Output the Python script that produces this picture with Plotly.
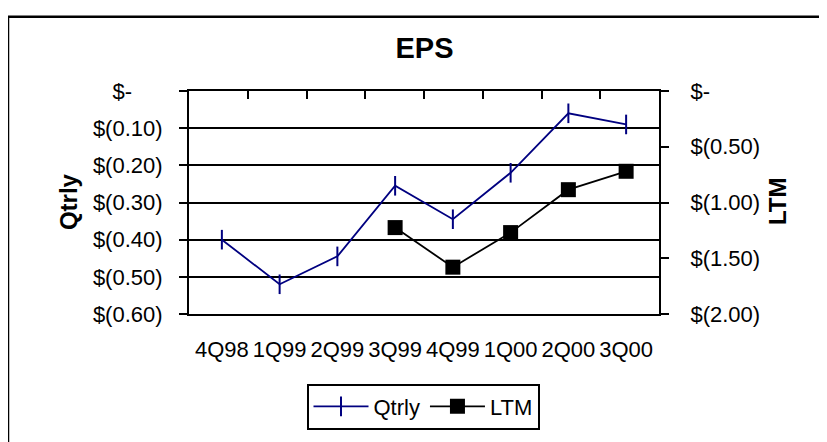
import plotly.graph_objects as go

categories = ["4Q98", "1Q99", "2Q99", "3Q99", "4Q99", "1Q00", "2Q00", "3Q00"]
qtrly = [-0.40, -0.52, -0.445, -0.255, -0.345, -0.22, -0.06, -0.09]
ltm = [None, None, None, -1.225, -1.58, -1.27, -0.885, -0.72]

left_tickvals = [-0.6, -0.5, -0.4, -0.3, -0.2, -0.1, 0.0]
left_ticktext = ["$(0.60)", "$(0.50)", "$(0.40)", "$(0.30)", "$(0.20)", "$(0.10)",
                 "$-\u00a0\u00a0\u00a0\u00a0\u00a0"]
right_tickvals = [-2.0, -1.5, -1.0, -0.5, 0.0]
right_ticktext = ["$(2.00)", "$(1.50)", "$(1.00)", "$(0.50)", "$-"]

FONT = "Liberation Sans, Arial, sans-serif"
OFF = 8  # default page body margin
W, H = 827 - OFF, 442 - OFF
# plot area in page pixels: left 189, top 91, right 659, bottom 325
L, T = 189 - OFF, 91 - OFF
R = W - (659 - OFF)
B = H - (325 - OFF)
pw, ph = W - L - R, H - T - B


def px(xpage):
    return ((xpage - OFF) - L) / pw


def py(ypage):
    return (H - B - (ypage - OFF)) / ph


fig = go.Figure()
fig.add_trace(go.Scatter(
    x=categories, y=qtrly, name="Qtrly", mode="lines+markers",
    line=dict(color="#000080", width=1.8),
    marker=dict(symbol="line-ns", size=14, line=dict(color="#000080", width=2)),
    yaxis="y", xaxis="x"))
fig.add_trace(go.Scatter(
    x=categories, y=ltm, name="LTM", mode="lines+markers",
    line=dict(color="black", width=1.8),
    marker=dict(symbol="square", size=15, color="black"),
    yaxis="y2", xaxis="x", connectgaps=False))
fig.add_trace(go.Scatter(x=[0], y=[None], xaxis="x2", yaxis="y",
                         showlegend=False, hoverinfo="skip", mode="markers"))

fig.update_layout(
    width=W, height=H,
    margin=dict(l=L, r=R, t=T, b=B, pad=0),
    paper_bgcolor="white", plot_bgcolor="white",
    font=dict(family=FONT, size=22, color="black"),
    showlegend=True,
    title=dict(text="<b>EPS</b>", x=(424.5 - OFF) / W, xref="container",
               xanchor="center", y=1 - (48 - OFF) / H, yref="container",
               yanchor="middle",
               font=dict(family=FONT, size=29, color="black")),
    xaxis=dict(type="category", showline=True, linecolor="black", linewidth=2,
               mirror=True, ticks="", showgrid=False, zeroline=False,
               ticklabelstandoff=15, tickfont=dict(size=22)),
    xaxis2=dict(overlaying="x", side="top", range=[-0.5, 7.5], type="linear",
                tickvals=[0.5, 1.5, 2.5, 3.5, 4.5, 5.5, 6.5],
                ticks="inside", ticklen=8, tickwidth=2, tickcolor="black",
                showticklabels=False, showgrid=False, zeroline=False,
                showline=False),
    yaxis=dict(range=[-0.6, 0], tickvals=left_tickvals, ticktext=left_ticktext,
               showline=True, linecolor="black", linewidth=2,
               ticks="outside", ticklen=8, tickwidth=2, tickcolor="black",
               showgrid=True, gridcolor="black", gridwidth=2, zeroline=False,
               ticklabelstandoff=12, tickfont=dict(size=22)),
    yaxis2=dict(range=[-2.0, 0], tickvals=right_tickvals, ticktext=right_ticktext,
                overlaying="y", side="right", anchor="x",
                showline=True, linecolor="black", linewidth=2,
                ticks="outside", ticklen=8, tickwidth=2, tickcolor="black",
                showgrid=False, zeroline=False,
                ticklabelstandoff=17, tickfont=dict(size=22)),
    legend=dict(orientation="h", x=px(423), xref="paper", xanchor="center",
                y=py(398), yref="paper", yanchor="top",
                bordercolor="black", borderwidth=2, bgcolor="white",
                font=dict(family=FONT, size=22), itemwidth=55,
                tracegroupgap=0),
    annotations=[
        dict(text="<b>Qtrly</b>", textangle=-90, x=px(53), y=py(207),
             xref="paper", yref="paper", showarrow=False,
             font=dict(family=FONT, size=24)),
        dict(text="<b>LTM</b>", textangle=-90, x=px(793), y=py(207),
             xref="paper", yref="paper", showarrow=False,
             font=dict(family=FONT, size=24)),
    ],
    shapes=[
        dict(type="line", xref="paper", yref="paper",
             x0=px(8), x1=px(900), y0=py(13), y1=py(13),
             line=dict(color="black", width=2.5), layer="below"),
        dict(type="line", xref="paper", yref="paper",
             x0=px(8), x1=px(8), y0=py(13), y1=py(500),
             line=dict(color="black", width=2.5), layer="below"),
    ],
)

fig.write_html("out.html", config={"displayModeBar": False})
